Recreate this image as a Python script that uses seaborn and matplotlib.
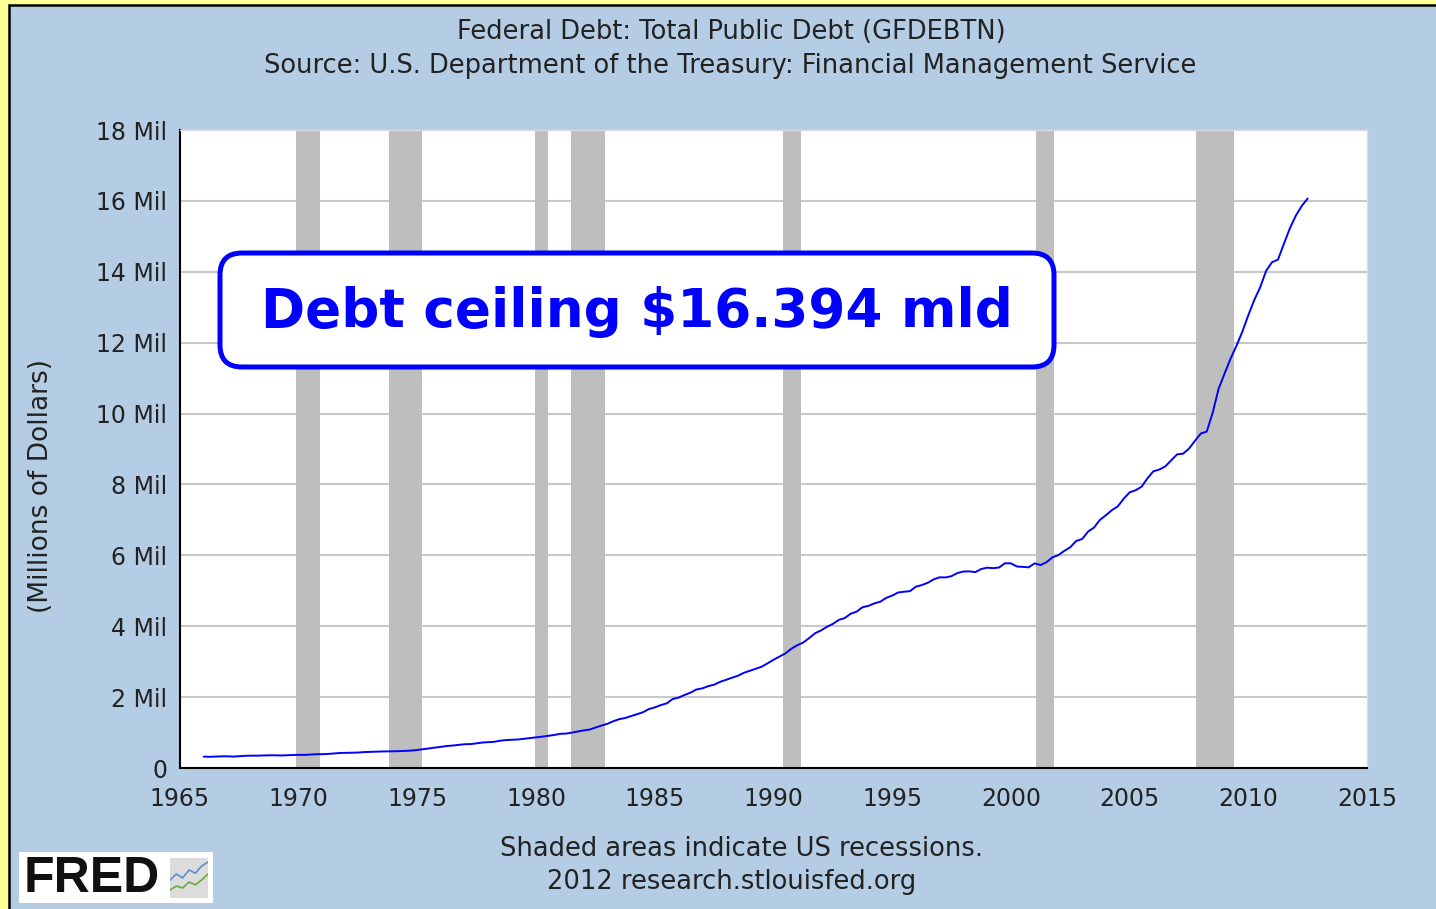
import numpy as np
import matplotlib.pyplot as plt
import matplotlib.patches as mpatches
from matplotlib.transforms import IdentityTransform
from matplotlib.ticker import FuncFormatter
import seaborn as sns

# Federal Debt: Total Public Debt, millions of dollars, quarterly 1966Q1 - 2012Q3
debt = [
    321000, 316000, 324000, 329000,   # 1966
    330000, 322000, 334000, 344000,   # 1967
    348000, 348000, 354000, 358000,   # 1968
    359000, 353000, 360000, 368000,   # 1969
    372000, 370000, 380000, 389000,   # 1970
    390000, 398000, 412000, 424000,   # 1971
    427000, 427000, 436000, 449000,   # 1972
    455000, 458000, 466000, 469000,   # 1973
    475000, 475000, 482000, 492000,   # 1974
    509000, 533000, 554000, 576000,   # 1975
    599000, 620000, 635000, 654000,   # 1976
    671000, 675000, 698000, 719000,   # 1977
    731000, 740000, 771000, 789000,   # 1978
    797000, 805000, 826000, 845000,   # 1979
    863000, 884000, 907000, 930000,   # 1980
    964000, 971000, 997000, 1030000,  # 1981
    1061000, 1084000, 1142000, 1197000,  # 1982
    1246000, 1319000, 1377000, 1410000,  # 1983
    1463000, 1517000, 1572000, 1663000,  # 1984
    1710000, 1774000, 1823000, 1945000,  # 1985
    1986000, 2059000, 2125000, 2214000,  # 1986
    2246000, 2309000, 2350000, 2431000,  # 1987
    2487000, 2547000, 2602000, 2685000,  # 1988
    2741000, 2799000, 2857000, 2953000,  # 1989
    3053000, 3143000, 3233000, 3364000,  # 1990
    3465000, 3538000, 3665000, 3801000,  # 1991
    3881000, 3984000, 4065000, 4177000,  # 1992
    4230000, 4352000, 4411000, 4535000,  # 1993
    4575000, 4645000, 4693000, 4800000,  # 1994
    4864000, 4951000, 4974000, 4989000,  # 1995
    5117000, 5161000, 5225000, 5323000,  # 1996
    5380000, 5376000, 5413000, 5502000,  # 1997
    5542000, 5548000, 5526000, 5614000,  # 1998
    5651000, 5638000, 5656000, 5776000,  # 1999
    5773000, 5686000, 5674000, 5662000,  # 2000
    5773000, 5726000, 5807000, 5943000,  # 2001
    6006000, 6126000, 6228000, 6405000,  # 2002
    6460000, 6670000, 6783000, 7001000,  # 2003
    7131000, 7274000, 7379000, 7596000,  # 2004
    7776000, 7836000, 7933000, 8170000,  # 2005
    8371000, 8420000, 8507000, 8680000,  # 2006
    8849000, 8867000, 9008000, 9229000,  # 2007
    9437000, 9492000, 10025000, 10700000,  # 2008
    11127000, 11545000, 11910000, 12311000,  # 2009
    12773000, 13201000, 13562000, 14025000,  # 2010
    14271000, 14343000, 14790000, 15223000,  # 2011
    15582000, 15856000, 16066000,  # 2012
]
dates = 1966 + np.arange(len(debt)) / 4

# US recessions (decimal years)
rec_start = [1969.9, 1973.8, 1979.95, 1981.47, 1990.4, 2001.06, 2007.8]
rec_end = [1970.9, 1975.19, 1980.5, 1982.9, 1991.16, 2001.82, 2009.4]

x_ticks = [1965, 1970, 1975, 1980, 1985, 1990, 1995, 2000, 2005, 2010, 2015]
y_ticks = [0, 2e6, 4e6, 6e6, 8e6, 1e7, 1.2e7, 1.4e7, 1.6e7, 1.8e7]

# little chart icon next to the FRED logo
icon_x = [0, 1, 2, 3, 4, 5, 6]
icon_blue = [0.45, 0.6, 0.5, 0.7, 0.62, 0.8, 0.9]
icon_green = [0.2, 0.3, 0.25, 0.4, 0.33, 0.45, 0.6]

sns.set_theme(style='white')
plt.rcParams['font.family'] = ['DejaVu Sans']

W, H = 1436, 909
BG = '#b4cde4'
TXT = '#222222'

fig = plt.figure(figsize=(W / 100, H / 100), dpi=100)
fig.patch.set_facecolor('#ffff99')

# blue panel with black border on left/top
panel = mpatches.Rectangle((9, -20), W + 40, H - 5 + 20, transform=IdentityTransform(),
                           facecolor=BG, edgecolor='black', lw=1.8, zorder=-5)
fig.add_artist(panel)

ax = fig.add_axes([180 / W, (H - 768) / H, (1367 - 180) / W, (768 - 130) / H])
ax.set_facecolor('white')

for s, e in zip(rec_start, rec_end):
    ax.axvspan(s, e, color='#bebebe', lw=0, zorder=1)

for y in y_ticks[1:-1]:
    ax.axhline(y, color='#c8c8c8', lw=1.5, zorder=0.5)

sns.lineplot(x=dates, y=debt, ax=ax, color='#0000ff', lw=1.4, zorder=3)

ax.set_xlim(1965, 2015)
ax.set_ylim(0, 1.8e7)
ax.set_xticks(x_ticks)
ax.set_yticks(y_ticks)
ax.yaxis.set_major_formatter(FuncFormatter(lambda v, p: '0' if v == 0 else f'{v / 1e6:g} Mil'))
ax.tick_params(axis='both', direction='in', length=8.5, width=1.4, colors='black',
               labelcolor=TXT, labelsize=17)
ax.tick_params(axis='x', pad=14)
ax.tick_params(axis='y', pad=9)
for side in ['left', 'bottom']:
    ax.spines[side].set_color('black')
    ax.spines[side].set_linewidth(1.5)
for side in ['top', 'right']:
    ax.spines[side].set_color('#dddddd')
    ax.spines[side].set_linewidth(1)
ax.grid(False)

# titles and notes
fig.text(731 / W, 1 - 32 / H, 'Federal Debt: Total Public Debt (GFDEBTN)',
         ha='center', va='center', fontsize=18.5, color=TXT)
fig.text(730 / W, 1 - 66 / H, 'Source: U.S. Department of the Treasury: Financial Management Service',
         ha='center', va='center', fontsize=18.5, color=TXT)
fig.text(41 / W, 1 - 486 / H, '(Millions of Dollars)', rotation=90,
         ha='center', va='center', fontsize=19, color=TXT)
fig.text(741 / W, 1 - 849 / H, 'Shaded areas indicate US recessions.',
         ha='center', va='center', fontsize=18.5, color=TXT)
fig.text(732 / W, 1 - 882 / H, '2012 research.stlouisfed.org',
         ha='center', va='center', fontsize=18.5, color=TXT)

# debt ceiling box
box = mpatches.FancyBboxPatch((220, H - 367), 834, 114, boxstyle='round,pad=0,rounding_size=22',
                              transform=IdentityTransform(), facecolor='white',
                              edgecolor='#0000ff', lw=3.6, zorder=10)
fig.add_artist(box)
fig.text(637 / W, 1 - 312 / H, 'Debt ceiling $16.394 mld', ha='center', va='center',
         fontsize=38.3, fontweight='bold', color='#0000ff', zorder=11)

# FRED logo
logo = mpatches.Rectangle((19, H - 903), 194, 51, transform=IdentityTransform(),
                          facecolor='white', edgecolor='none', zorder=10)
fig.add_artist(logo)
fig.text(24 / W, 1 - 879 / H, 'FRED', ha='left', va='center', fontsize=36,
         fontweight='heavy', family='Liberation Sans', color='#111111', zorder=11)
iax = fig.add_axes([170 / W, (H - 898) / H, 38 / W, 40 / H], zorder=12)
iax.set_facecolor('#dcdcdc')
iax.plot(icon_x, icon_blue, color='#5b8fc9', lw=1.2)
iax.plot(icon_x, icon_green, color='#6aaa3a', lw=1.2)
iax.set_xlim(0, 6)
iax.set_ylim(0, 1)
iax.set_xticks([])
iax.set_yticks([])
for sp in iax.spines.values():
    sp.set_visible(False)

fig.savefig('out.png', dpi=100, facecolor=fig.get_facecolor())
